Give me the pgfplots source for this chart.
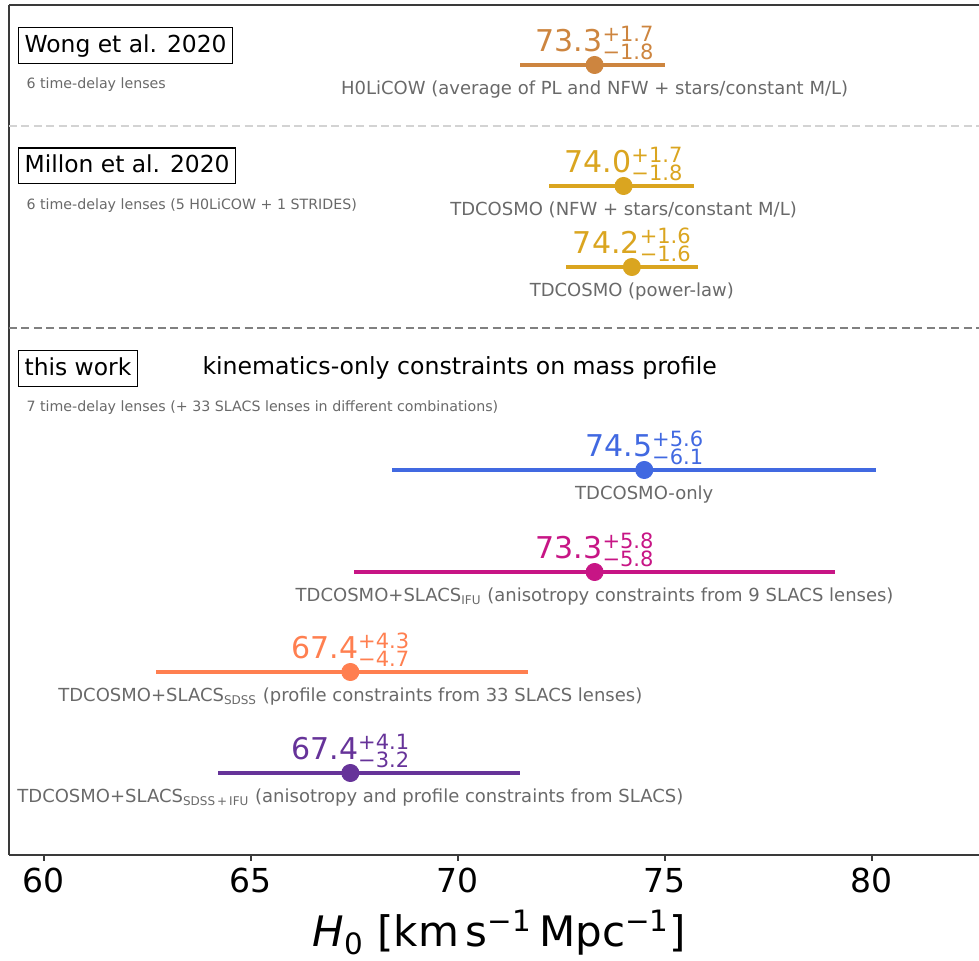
\documentclass[border=0pt]{standalone}
\usepackage{pgfplots}
\pgfplotsset{compat=1.18}
\usepackage{fontspec}
\setmainfont{DejaVu Sans}
\definecolor{peru}{HTML}{CD853F}
\definecolor{goldenrod}{HTML}{DAA520}
\definecolor{royalblue}{HTML}{4169E1}
\definecolor{mvred}{HTML}{C71585}
\definecolor{coral}{HTML}{FF7F50}
\definecolor{rpurple}{HTML}{663399}
\definecolor{dimgray}{HTML}{696969}
\definecolor{spine}{HTML}{3A3A3A}
\newcommand{\val}[3]{{\fontsize{15}{15}\selectfont #1}{\fontsize{10.5}{10.5}\selectfont\rlap{\raisebox{5.3pt}{#2}}\raisebox{-4pt}{#3}}}
\tikzset{
  vlab/.style={anchor=base, inner sep=0pt, yshift=6.5pt},
  dlab/.style={anchor=base, inner sep=0pt, yshift=-15pt, dimgray, font=\fontsize{9}{9}\selectfont},
  small/.style={anchor=west, inner sep=0pt, dimgray, font=\fontsize{7.1}{7.1}\selectfont},
  refbox/.style={anchor=west, draw=black, line width=0.7pt, inner xsep=3pt, inner ysep=3pt, text height=9.2pt, text depth=2.6pt, font=\fontsize{11.7}{11.7}\selectfont}
}
\pgfplotsset{
  eb/.style={only marks, mark=*, mark size=4.3pt, color=#1,
    error bars/.cd, x dir=both, x explicit, error mark=none,
    error bar style={line width=2.2pt, color=#1}}
}
\begin{document}
\begin{tikzpicture}
\begin{axis}[
  name=ax, at={(0,0)}, anchor=south west,
  width=485pt, height=425pt, scale only axis,
  xmin=59.155, xmax=82.585, ymin=0, ymax=850,
  axis lines=left, axis line style={-, draw=spine, line width=1pt},
  xtick={60,65,70,75,80}, ytick=\empty,
  tick align=outside, major tick length=3pt,
  tick style={draw=spine, line width=0.8pt},
  /pgf/number format/assume math mode=true,
  xticklabel style={font=\fontsize{16.5}{16.5}\selectfont},
  xlabel={\textit{H}\textsubscript{0} [km\,s\textsuperscript{−1}\,Mpc\textsuperscript{−1}]},
  xlabel style={font=\fontsize{21}{21}\selectfont, at={(axis description cs:0.5055,0)}, anchor=base, yshift=-46pt},
  clip=false,
]
% top spine
\draw[spine, line width=1pt] (rel axis cs:0,1) -- (rel axis cs:1,1);
% separators
\draw[color={rgb,255:red,211;green,211;blue,211}, line width=1pt, dash pattern=on 4pt off 2.2pt] (axis cs:59.155,729) -- (axis cs:82.585,729);
\draw[color={rgb,255:red,128;green,128;blue,128}, line width=1pt, dash pattern=on 4pt off 2.2pt] (axis cs:59.155,527) -- (axis cs:82.585,527);

% Wong et al. 2020
\addplot[eb=peru] coordinates {(73.3,790) += (1.7,0) -= (1.8,0)};
% Millon et al. 2020
\addplot[eb=goldenrod] coordinates {(74.0,669) += (1.7,0) -= (1.8,0)};
\addplot[eb=goldenrod] coordinates {(74.2,588) += (1.6,0) -= (1.6,0)};
% this work
\addplot[eb=royalblue] coordinates {(74.5,385) += (5.6,0) -= (6.1,0)};
\addplot[eb=mvred] coordinates {(73.3,283) += (5.8,0) -= (5.8,0)};
\addplot[eb=coral] coordinates {(67.4,183) += (4.3,0) -= (4.7,0)};
\addplot[eb=rpurple] coordinates {(67.4,82) += (4.1,0) -= (3.2,0)};

% value labels
\node[vlab, peru] at (axis cs:73.3,790) {\val{73.3}{+1.7}{−1.8}};
\node[vlab, goldenrod] at (axis cs:74.0,669) {\val{74.0}{+1.7}{−1.8}};
\node[vlab, goldenrod] at (axis cs:74.2,588) {\val{74.2}{+1.6}{−1.6}};
\node[vlab, royalblue] at (axis cs:74.5,385) {\val{74.5}{+5.6}{−6.1}};
\node[vlab, mvred] at (axis cs:73.3,283) {\val{73.3}{+5.8}{−5.8}};
\node[vlab, coral] at (axis cs:67.4,183) {\val{67.4}{+4.3}{−4.7}};
\node[vlab, rpurple] at (axis cs:67.4,82) {\val{67.4}{+4.1}{−3.2}};

% descriptions
\node[dlab] at (axis cs:73.3,790) {H0LiCOW (average of PL and NFW + stars/constant M/L)};
\node[dlab] at (axis cs:74.0,669) {TDCOSMO (NFW + stars/constant M/L)};
\node[dlab] at (axis cs:74.2,588) {TDCOSMO (power-law)};
\node[dlab] at (axis cs:74.5,385) {TDCOSMO-only};
\node[dlab] at (axis cs:73.3,283) {TDCOSMO+SLACS\textsubscript{IFU} (anisotropy constraints from 9 SLACS lenses)};
\node[dlab] at (axis cs:67.4,183) {TDCOSMO+SLACS\textsubscript{SDSS} (profile constraints from 33 SLACS lenses)};
\node[dlab] at (axis cs:67.4,82) {TDCOSMO+SLACS\textsubscript{SDSS\,+\,IFU} (anisotropy and profile constraints from SLACS)};

% group boxes
\node[refbox] at (axis cs:59.37,809.5) {Wong et al. 2020};
\node[refbox] at (axis cs:59.37,689) {Millon et al. 2020};
\node[refbox] at (axis cs:59.37,486.5) {this work};
\node[anchor=center, inner sep=0pt, font=\fontsize{11.8}{11.8}\selectfont] at (axis cs:70.04,487) {kinematics-only constraints on mass profile};

\node[small] at (axis cs:59.57,770) {6 time-delay lenses};
\node[small] at (axis cs:59.57,649) {6 time-delay lenses (5 H0LiCOW + 1 STRIDES)};
\node[small] at (axis cs:59.57,447) {7 time-delay lenses (+ 33 SLACS lenses in different combinations)};
\end{axis}
\pgfresetboundingbox
\path[use as bounding box] (-4.5pt,-53pt) rectangle (485pt,427.5pt);
\end{tikzpicture}
\end{document}
